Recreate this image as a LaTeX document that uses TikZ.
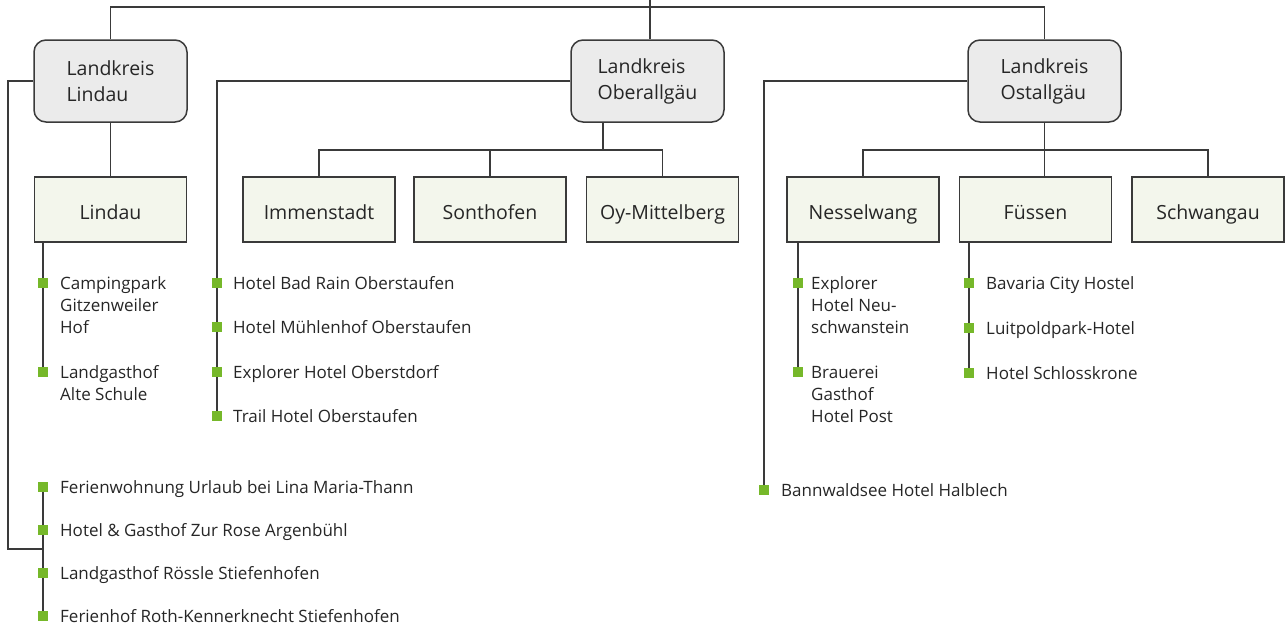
\documentclass[tikz,border=0pt]{standalone}
\usepackage{fontspec}
\setmainfont{Open Sans}
\definecolor{linec}{HTML}{3A3A3A}
\definecolor{lkfill}{HTML}{EBEBEB}
\definecolor{subfill}{HTML}{F3F6EC}
\definecolor{bulgreen}{HTML}{76B82A}
\definecolor{txt}{HTML}{262626}
\newcommand{\itemlines}[1]{\begin{tabular}[t]{@{}l@{}}#1\end{tabular}}
\tikzset{
  conn/.style={draw=linec, line width=1.5pt},
  lkbox/.style={draw=linec, line width=1.5pt, fill=lkfill, rounded corners=12pt,
    minimum width=153pt, minimum height=82pt, align=left, text=txt,
    font=\fontsize{19.5}{26}\selectfont},
  subbox/.style={draw=linec, line width=1.5pt, fill=subfill,
    minimum width=152pt, minimum height=65pt, text=txt, inner ysep=0pt,
    text height=23pt, text depth=4pt,
    font=\fontsize{19.5}{24}\selectfont},
  bul/.style={fill=bulgreen, minimum size=10pt, inner sep=0pt},
  itemtxt/.style={anchor=base west, inner sep=0pt, text=txt,
    font=\fontsize{17}{22}\selectfont}
}
\begin{document}
\begin{tikzpicture}[x=1pt,y=-1pt]
\useasboundingbox (0,0) rectangle (1285,627);
% top level boxes
\node[lkbox] (lkL) at (110.5,81) {Landkreis\\Lindau};
\node[lkbox] (lkO) at (647.5,81) {Landkreis\\Oberallgäu};
\node[lkbox] (lkS) at (1044.5,81) {Landkreis\\Ostallgäu};
% sub boxes
\node[subbox] (cL) at (110.5,209.5) {Lindau};
\node[subbox] (cIm) at (319,209.5) {Immenstadt};
\node[subbox] (cSo) at (490,209.5) {Sonthofen};
\node[subbox] (cOy) at (662.5,209.5) {Oy-Mittelberg};
\node[subbox] (cNe) at (863,209.5) {Nesselwang};
\node[subbox] (cFu) at (1035.5,209.5) {Füssen};
\node[subbox] (cSw) at (1208,209.5) {Schwangau};
% helper coordinates
\coordinate (topend) at (650,0);
\coordinate (bar) at (650,7);
\coordinate (oj) at (603,150);
\coordinate (sj) at (1045,150);
\coordinate (cornerL) at (8,549);
\coordinate (jL) at (43,549);
% bullets
\node[bul] (l1) at (43,283) {};
\node[bul] (l2) at (43,372) {};
\node[bul] (o1) at (217,283) {};
\node[bul] (o2) at (217,327) {};
\node[bul] (o3) at (217,372) {};
\node[bul] (o4) at (217,416) {};
\node[bul] (f1) at (43,487) {};
\node[bul] (f2) at (43,530) {};
\node[bul] (f3) at (43,573) {};
\node[bul] (f4) at (43,616) {};
\node[bul] (n1) at (798,283) {};
\node[bul] (n2) at (798,372) {};
\node[bul] (u1) at (969,283) {};
\node[bul] (u2) at (969,328) {};
\node[bul] (u3) at (969,373) {};
\node[bul] (bw) at (764,490) {};
% connectors
\draw[conn] (lkL.north) |- (bar) -| (lkS.north);
\draw[conn] (topend) -- (lkO.north -| topend);
\draw[conn] (lkL.south) -- (cL.north);
\draw[conn] (lkL.west) -| (cornerL) -- (jL);
\draw[conn] (l1 |- cL.south) -- (l2.center);
\draw[conn] (f1.center) -- (f4.center);
\draw[conn] (lkO.west) -| (o4.center);
\draw[conn] (oj |- lkO.south) -- (oj);
\draw[conn] (cIm.north) |- (oj) -| (cOy.north);
\draw[conn] (cSo.north) -- (cSo.north |- oj);
\draw[conn] (lkS.west) -| (bw.center);
\draw[conn] (lkS.south) -- (lkS.south |- cFu.north);
\draw[conn] (cNe.north) |- (sj) -| (cSw.north);
\draw[conn] (n1 |- cNe.south) -- (n2.center);
\draw[conn] (u1 |- cFu.south) -- (u3.center);
% redraw bullets on top
\foreach \b in {l1,l2,o1,o2,o3,o4,f1,f2,f3,f4,n1,n2,u1,u2,u3,bw}
  \fill[bulgreen] (\b.south west) rectangle (\b.north east);
% item texts
\node[itemtxt] (tl1) at (60,289) {\itemlines{Campingpark\\Gitzenweiler\\Hof}};
\node[itemtxt] (tl2) at (60,378) {\itemlines{Landgasthof\\Alte Schule}};
\node[itemtxt] (to1) at (233,289) {Hotel Bad Rain Oberstaufen};
\node[itemtxt] (to2) at (233,333) {Hotel Mühlenhof Oberstaufen};
\node[itemtxt] (to3) at (233,378) {Explorer Hotel Oberstdorf};
\node[itemtxt] (to4) at (233,422) {Trail Hotel Oberstaufen};
\node[itemtxt] (tf1) at (60,493) {Ferienwohnung Urlaub bei Lina Maria-Thann};
\node[itemtxt] (tf2) at (60,536) {Hotel \& Gasthof Zur Rose Argenbühl};
\node[itemtxt] (tf3) at (60,579) {Landgasthof Rössle Stiefenhofen};
\node[itemtxt] (tf4) at (60,622) {Ferienhof Roth-Kennerknecht Stiefenhofen};
\node[itemtxt] (tn1) at (811,289) {\itemlines{Explorer\\Hotel Neu-\\schwanstein}};
\node[itemtxt] (tn2) at (811,378) {\itemlines{Brauerei\\Gasthof\\Hotel Post}};
\node[itemtxt] (tu1) at (986,289) {Bavaria City Hostel};
\node[itemtxt] (tu2) at (986,334) {Luitpoldpark-Hotel};
\node[itemtxt] (tu3) at (986,379) {Hotel Schlosskrone};
\node[itemtxt] (tbw) at (781,496) {Bannwaldsee Hotel Halblech};
\end{tikzpicture}
\end{document}
